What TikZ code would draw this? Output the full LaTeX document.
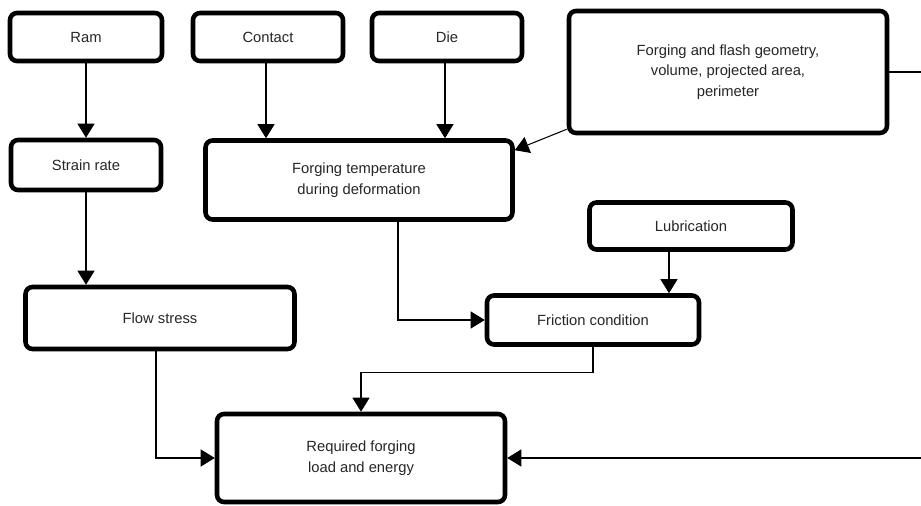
\documentclass[tikz,border=0pt]{standalone}
\usepackage{fontspec}
\setmainfont{Liberation Sans}
\usetikzlibrary{arrows.meta, positioning}

\begin{document}
\begin{tikzpicture}[
  x=0.02cm, y=-0.02cm,
  box/.style={rectangle, rounded corners=4pt, draw=black, line width=2.6pt, fill=white,
              align=center, inner sep=2pt, text=black!85, font=\fontsize{8.4}{11.8}\selectfont},
  arrow/.style={-{Triangle[length=0.28cm, width=0.34cm]}, line width=0.6pt}
]
\useasboundingbox (0,0) rectangle (921,506);

\node[box, minimum width=3.04cm, minimum height=0.96cm] (ram)      at (86,37)    {Ram};
\node[box, minimum width=3.0cm,  minimum height=0.96cm] (contact)  at (268,37)   {Contact};
\node[box, minimum width=3.0cm,  minimum height=0.96cm] (die)      at (447,37)   {Die};
\node[box, minimum width=6.36cm, minimum height=2.44cm] (flash)    at (728,72)   {Forging and flash geometry,\\ volume, projected area,\\ perimeter};
\node[box, minimum width=3.0cm,  minimum height=1.0cm]  (strain)   at (86,165)   {Strain rate};
\node[box, minimum width=6.14cm, minimum height=1.58cm] (temp)     at (359,180)  {Forging temperature\\ during deformation};
\node[box, minimum width=4.06cm, minimum height=0.94cm] (lub)      at (691,226)  {Lubrication};
\node[box, minimum width=4.24cm, minimum height=0.98cm] (friction) at (593,320)  {Friction condition};
\node[box, minimum width=5.38cm, minimum height=1.24cm] (flow)     at (160,318)  {Flow stress};
\node[box, minimum width=5.76cm, minimum height=1.76cm] (required) at (361,458)  {Required forging\\ load and energy};

\draw[arrow] (ram) -- (strain);
\draw[arrow] ([shift={(-2,0)}]contact.south) -- ([shift={(-2,0)}]contact.south |- temp.north);
\draw[arrow] ([shift={(-2,0)}]die.south) -- ([shift={(-2,0)}]die.south |- temp.north);
\draw[arrow] ([shift={(0,-6)}]flash.south west) -- ([shift={(0,12)}]temp.north east);
\draw[arrow] (strain) -- (strain |- flow.north);
\draw[arrow] ([shift={(39,0)}]temp.south) |- (friction.west);
\draw[arrow] ([shift={(-22,0)}]lub.south) -- ([shift={(-22,0)}]lub.south |- friction.north);
\draw[arrow] (friction.south) -- ++(0,26) -| (required.north);
\draw[arrow] ([shift={(-4,0)}]flow.south) |- (required.west);
\draw[arrow] (flash.east) -- ++(36,0) |- (required.east);

\end{tikzpicture}
\end{document}
